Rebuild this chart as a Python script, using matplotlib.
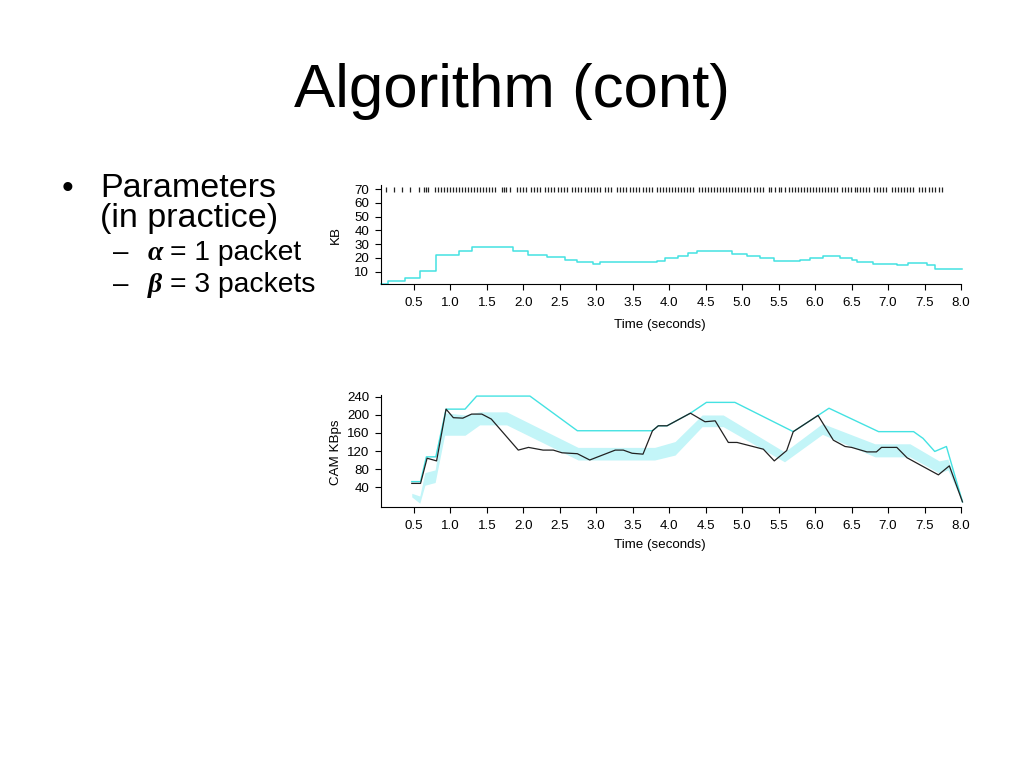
import numpy as np
import matplotlib.pyplot as plt
from matplotlib.ticker import FormatStrFormatter

plt.rcParams['font.family'] = ['Liberation Sans', 'DejaVu Sans']

# top chart: window size (KB) over time, step curve
win_t = [0.05, 0.15, 0.38, 0.58, 0.80, 1.12, 1.29, 1.86, 2.07, 2.32, 2.57, 2.73,
         2.96, 3.05, 3.83, 3.94, 4.12, 4.26, 4.38, 4.86, 5.06, 5.24, 5.43, 5.79,
         5.93, 6.11, 6.34, 6.50, 6.57, 6.80, 7.12, 7.28, 7.53, 7.64, 8.02]
win_kb = [1.0, 3.2, 5.6, 10.7, 22.1, 25.1, 27.7, 25.1, 22.1, 20.5, 18.3, 16.8,
          15.4, 16.8, 17.8, 19.7, 21.6, 23.4, 25.3, 22.9, 21.6, 19.7, 17.8, 18.5,
          19.7, 21.4, 19.7, 18.3, 16.8, 15.8, 14.9, 16.1, 14.9, 11.7, 11.7]

# packet send times (tick row at 70 KB)
packet_times = [
    0.12, 0.23, 0.34, 0.45, 0.57, 0.64, 0.67, 0.69,
    0.79, 0.83, 0.87, 0.91, 0.95, 0.99, 1.04, 1.08, 1.12, 1.16, 1.20, 1.24,
    1.28, 1.32, 1.36, 1.40, 1.45, 1.49, 1.53, 1.57, 1.61,
    1.71, 1.73, 1.76, 1.82,
    1.91, 1.95, 2.00, 2.04, 2.10, 2.15, 2.19, 2.23, 2.30, 2.34, 2.38, 2.42,
    2.48, 2.52, 2.56, 2.60, 2.67, 2.71, 2.75, 2.79,
    2.85, 2.89, 2.93, 2.97, 3.01, 3.05,
    3.12, 3.16, 3.20, 3.28, 3.33, 3.37, 3.41, 3.46, 3.50, 3.54, 3.59,
    3.64, 3.68, 3.72, 3.76,
    3.83, 3.87, 3.91, 3.96, 4.00, 4.04, 4.08, 4.12, 4.16, 4.20, 4.24, 4.29, 4.33,
    4.41, 4.45, 4.49, 4.53, 4.57, 4.61, 4.66, 4.70, 4.74, 4.78, 4.82,
    4.86, 4.90, 4.94, 4.98, 5.03, 5.07, 5.11, 5.16, 5.20, 5.24, 5.28,
    5.37, 5.40, 5.45, 5.51, 5.53, 5.59, 5.64, 5.68, 5.72, 5.77, 5.81,
    5.85, 5.89, 5.93, 5.97, 6.01, 6.05, 6.10, 6.14, 6.18, 6.22, 6.26, 6.30,
    6.37, 6.41, 6.45, 6.49, 6.54, 6.58, 6.62, 6.66, 6.70, 6.74,
    6.81, 6.85, 6.89, 6.93, 6.97,
    7.05, 7.10, 7.14, 7.18, 7.22, 7.26, 7.30, 7.34,
    7.43, 7.47, 7.51, 7.56, 7.60, 7.64, 7.70, 7.74]

# bottom chart: CAM rate (KBps)
cam_t = [0.47, 0.59, 0.68, 0.81, 0.94, 1.04, 1.17, 1.29, 1.43, 1.56, 1.93, 2.07,
         2.27, 2.41, 2.53, 2.74, 2.91, 3.26, 3.37, 3.49, 3.64, 3.77, 3.85, 3.97,
         4.29, 4.49, 4.63, 4.81, 4.93, 5.29, 5.44, 5.61, 5.70, 6.04, 6.25, 6.41,
         6.50, 6.71, 6.84, 6.91, 7.12, 7.26, 7.44, 7.69, 7.84, 8.02]
cam_kbps = [48, 48, 104, 98, 213, 194, 193, 202, 202, 191, 122, 128,
            122, 122, 116, 114, 100, 122, 122, 115, 113, 165, 176, 176,
            204, 185, 187, 139, 139, 124, 98, 121, 163, 199, 144, 130,
            128, 118, 118, 128, 128, 105, 89, 67, 87, 7]

# upper envelope
env_t = [0.47, 0.59, 0.67, 0.80, 0.94, 1.20, 1.36, 2.09, 2.74, 3.77, 3.85, 3.97,
         4.29, 4.51, 4.90, 5.70, 6.04, 6.19, 6.87, 7.35, 7.48, 7.64, 7.80, 8.02]
env_kbps = [52, 52, 107, 107, 213, 213, 242, 242, 165, 165, 176, 176,
            204, 228, 228, 163, 199, 215, 163, 163, 148, 119, 130, 7]

# shaded band
band_t = [0.47, 0.58, 0.65, 0.79, 0.92, 1.20, 1.40, 1.77, 2.75, 3.60, 3.80, 4.08,
          4.45, 4.74, 5.58, 6.10, 6.82, 7.30, 7.70, 7.82, 8.02]
band_hi = [26, 20, 72, 78, 205, 200, 207, 207, 128, 128, 128, 141,
           200, 200, 118, 181, 136, 136, 98, 102, 12]
band_lo = [18, 4, 44, 50, 155, 155, 178, 178, 100, 100, 100, 111,
           174, 174, 96, 157, 107, 107, 71, 78, 6]

x_ticks = [0.5, 1.0, 1.5, 2.0, 2.5, 3.0, 3.5, 4.0, 4.5, 5.0, 5.5, 6.0, 6.5, 7.0, 7.5, 8.0]
kb_ticks = [10, 20, 30, 40, 50, 60, 70]
cam_ticks = [40, 80, 120, 160, 200, 240]

cyan = '#44e2e2'
fs = 9.6

fig = plt.figure(figsize=(10.24, 7.68), dpi=100)

# slide text
fig.text(0.5, 1 - 107 / 768, 'Algorithm (cont)', ha='center', va='baseline', fontsize=44.5)
fig.text(62 / 1024, 1 - 198 / 768, '\u2022', ha='left', va='baseline', fontsize=24)
fig.text(100 / 1024, 1 - 197 / 768, 'Parameters', ha='left', va='baseline', fontsize=24.5)
fig.text(100 / 1024, 1 - 227 / 768, '(in practice)', ha='left', va='baseline', fontsize=24.5)
fig.text(113 / 1024, 1 - 260 / 768, '\u2013', ha='left', va='baseline', fontsize=20)
fig.text(148 / 1024, 1 - 260 / 768, '\u03b1', ha='left', va='baseline', fontsize=20,
         style='italic', weight='bold', family='Liberation Serif')
fig.text(170 / 1024, 1 - 260 / 768, '= 1 packet', ha='left', va='baseline', fontsize=20.3)
fig.text(113 / 1024, 1 - 292 / 768, '\u2013', ha='left', va='baseline', fontsize=20)
fig.text(148 / 1024, 1 - 292 / 768, '\u03b2', ha='left', va='baseline', fontsize=20,
         style='italic', weight='bold', family='Liberation Serif')
fig.text(170 / 1024, 1 - 292 / 768, '= 3 packets', ha='left', va='baseline', fontsize=20.3)


def style_axes(ax):
    for s in ['top', 'right']:
        ax.spines[s].set_visible(False)
    for s in ['left', 'bottom']:
        ax.spines[s].set_linewidth(0.8)
    ax.tick_params(direction='out', length=4.5, width=0.8, labelsize=fs)
    ax.tick_params(axis='x', pad=5)
    ax.tick_params(axis='y', pad=4)
    ax.set_xticks(x_ticks)
    ax.xaxis.set_major_formatter(FormatStrFormatter('%.1f'))


# top chart
ax1 = fig.add_axes([381 / 1024, 1 - 284 / 768, 580 / 1024, 99 / 768])
ax1.step(win_t, win_kb, where='post', color=cyan, lw=1.1, clip_on=False)
ax1.vlines(packet_times, 68.2, 71.9, color='#222222', lw=0.9)
ax1.set_xlim(0.048, 8.0)
ax1.set_ylim(1.0, 73.1)
style_axes(ax1)
ax1.set_yticks(kb_ticks)
ax1.set_xlabel('Time (seconds)', fontsize=fs)
ax1.xaxis.set_label_coords(0.481, -0.35)
ax1.set_ylabel('KB', fontsize=fs)
ax1.yaxis.set_label_coords(-0.068, 0.49)

# bottom chart
ax2 = fig.add_axes([381 / 1024, 1 - 507 / 768, 580 / 1024, 112 / 768])
ax2.fill_between(band_t, band_lo, band_hi, color='#c3f5f8', lw=0, clip_on=False)
ax2.plot(env_t, env_kbps, color=cyan, lw=1.0, clip_on=False)
ax2.plot(cam_t, cam_kbps, color='#222222', lw=0.9, clip_on=False)
ax2.set_xlim(0.048, 8.0)
ax2.set_ylim(-4.4, 244.4)
style_axes(ax2)
ax2.set_yticks(cam_ticks)
ax2.set_xlabel('Time (seconds)', fontsize=fs)
ax2.xaxis.set_label_coords(0.481, -0.285)
ax2.set_ylabel('CAM KBps', fontsize=fs)
ax2.yaxis.set_label_coords(-0.068, 0.49)

plt.savefig('out.png', dpi=100)
